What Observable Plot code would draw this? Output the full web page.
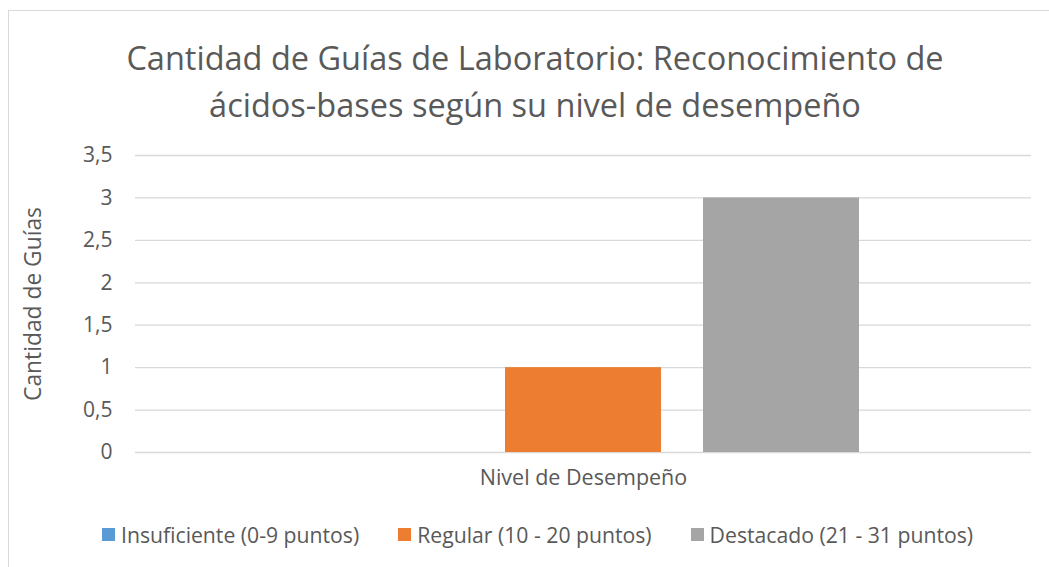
<!DOCTYPE html>
<html>
<head>
<meta charset="utf-8">
<script src="https://cdn.jsdelivr.net/npm/d3@7"></script>
<script src="https://cdn.jsdelivr.net/npm/@observablehq/plot@0.6"></script>
<style>
  html, body { margin: 0; padding: 0; background: #fff; }
  body { width: 1049px; height: 567px; position: relative; overflow: hidden; font-family: "Open Sans", "Noto Sans", sans-serif; color: #595959; }
  #frame { position: absolute; left: 8px; top: 10px; width: 1100px; height: 600px; border-left: 1px solid #D9D9D9; border-top: 1px solid #D9D9D9; }
  #title { position: absolute; left: 0; top: 34px; width: 1070px; text-align: center; font-size: 32.5px; line-height: 47px; color: #595959; }
  #chart { position: absolute; left: 0; top: 130px; }
  #legend { position: absolute; left: 102px; top: 520px; display: flex; justify-content: flex-start; gap: 39px; font-size: 21.2px; color: #595959; white-space: nowrap; }
  .item { display: flex; align-items: center; gap: 6px; }
  .sw { width: 13px; height: 13px; display: inline-block; }
</style>
</head>
<body>
<div id="frame"></div>
<div id="title">Cantidad de Guías de Laboratorio: Reconocimiento de<br>ácidos-bases según su nivel de desempeño</div>
<div id="chart"></div>
<div id="legend"></div>
<script>
const categories = ["Insuficiente (0-9 puntos)", "Regular (10 - 20 puntos)", "Destacado (21 - 31 puntos)"];
const values = [0, 1, 3];
const yTicks = [0, 0.5, 1, 1.5, 2, 2.5, 3, 3.5];
const palette = ["#5B9BD5", "#ED7D31", "#A5A5A5"];
const xTitle = "Nivel de Desempeño";
const yTitle = "Cantidad de Guías";

const data = categories.map((c, i) => ({serie: c, valor: values[i]}));
const fmt = v => String(v).replace(".", ",");

const chart = Plot.plot({
  width: 1049,
  height: 380,
  marginTop: 25,
  marginBottom: 58,
  marginLeft: 135,
  marginRight: 18,
  style: {fontFamily: '"Open Sans", "Noto Sans", sans-serif', fontSize: "21px", color: "#595959", background: "transparent"},
  x: {domain: categories, paddingInner: 0.211, paddingOuter: 0.857, axis: null},
  y: {domain: [0, 3.5], axis: null},
  color: {domain: categories, range: palette},
  marks: [
    Plot.gridY(yTicks, {stroke: "#D9D9D9", strokeOpacity: 1, strokeWidth: 1.3}),
    Plot.barY(data, {x: "serie", y: "valor", fill: "serie"}),
    Plot.axisY(yTicks, {tickSize: 0, tickPadding: 23, tickFormat: fmt, fontSize: 21, fill: "#595959", label: null}),
    Plot.text([yTitle], {frameAnchor: "left", textAnchor: "middle", dx: -102, dy: 0, rotate: -90, text: d => d, fontSize: 22.8, fill: "#595959"}),
    Plot.text([xTitle], {frameAnchor: "bottom", dy: 32, text: d => d, fontSize: 21.5, fill: "#595959"})
  ]
});
document.getElementById("chart").appendChild(chart);

const legend = document.getElementById("legend");
categories.forEach((c, i) => {
  const item = document.createElement("div");
  item.className = "item";
  const sw = document.createElement("span");
  sw.className = "sw";
  sw.style.background = palette[i];
  const t = document.createElement("span");
  t.textContent = c;
  item.appendChild(sw);
  item.appendChild(t);
  legend.appendChild(item);
});
</script>
</body>
</html>
